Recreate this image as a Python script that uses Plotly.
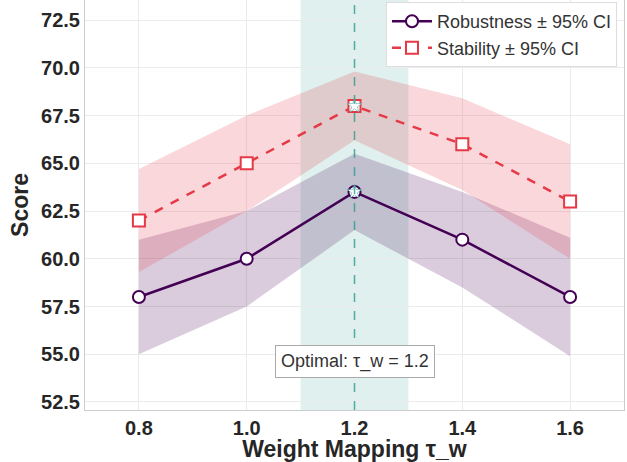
import plotly.graph_objects as go

tau_w = [0.8, 1.0, 1.2, 1.4, 1.6]
robustness = [58.0, 60.0, 63.5, 61.0, 58.0]
robustness_ci = [3.0, 2.5, 2.0, 2.5, 3.1]
stability = [62.0, 65.0, 68.0, 66.0, 63.0]
stability_ci = [2.7, 2.5, 1.8, 2.4, 3.0]
optimal_tau = 1.2
optimal_window = [1.1, 1.3]
y_ticks = [52.5, 55.0, 57.5, 60.0, 62.5, 65.0, 67.5, 70.0, 72.5]
x_ticks = [0.8, 1.0, 1.2, 1.4, 1.6]

PURPLE = "#440154"
RED = "#E63946"
TEAL = "#2A9D8F"
FONT = "Liberation Sans, Arial, sans-serif"

fig = go.Figure()

fig.add_vrect(x0=optimal_window[0], x1=optimal_window[1], fillcolor=TEAL,
              opacity=0.15, line_width=0, layer="below")

def band(x, y, ci, color):
    lo = [v - c for v, c in zip(y, ci)]
    hi = [v + c for v, c in zip(y, ci)]
    fig.add_trace(go.Scatter(x=list(x) + list(x)[::-1], y=hi + lo[::-1],
                             fill="toself", fillcolor=color, line=dict(width=0),
                             mode="lines", showlegend=False, hoverinfo="skip"))

band(tau_w, robustness, robustness_ci, "rgba(68,1,84,0.2)")
band(tau_w, stability, stability_ci, "rgba(230,57,70,0.2)")

fig.add_trace(go.Scatter(x=tau_w, y=robustness, mode="lines+markers",
                         name="Robustness ± 95% CI",
                         line=dict(color=PURPLE, width=2.5),
                         marker=dict(symbol="circle", size=12, color="white",
                                     line=dict(color=PURPLE, width=2))))
fig.add_trace(go.Scatter(x=tau_w, y=stability, mode="lines+markers",
                         name="Stability ± 95% CI",
                         line=dict(color=RED, width=2.5, dash="dash"),
                         marker=dict(symbol="square", size=12, color="white",
                                     line=dict(color=RED, width=2))))

idx = tau_w.index(optimal_tau)
fig.add_trace(go.Scatter(x=[optimal_tau, optimal_tau],
                         y=[robustness[idx], stability[idx]], mode="markers",
                         showlegend=False,
                         marker=dict(symbol="star", size=11, color="white",
                                     line=dict(color=TEAL, width=0.5))))

fig.add_vline(x=optimal_tau, line=dict(color=TEAL, width=1.5, dash="dash"),
              opacity=0.8, layer="above")

fig.add_annotation(x=optimal_tau, y=54.62, text="Optimal: τ_w = 1.2",
                   showarrow=False, font=dict(family=FONT, size=18, color="#333"),
                   bgcolor="white", bordercolor="#aaaaaa", borderwidth=1,
                   borderpad=5)

axis_common = dict(showgrid=True, gridcolor="#ebebeb", gridwidth=1,
                   showline=True, linecolor="#cccccc", linewidth=1, mirror=True,
                   zeroline=False, ticks="", automargin=False,
                   tickfont=dict(family=FONT, size=20, color="#262626"))

fig.update_layout(
    width=627, height=462,
    margin=dict(l=85, r=3, t=0, b=52),
    plot_bgcolor="white", paper_bgcolor="white",
    font=dict(family=FONT),
    xaxis=dict(range=[0.7, 1.7], tickvals=x_ticks,
               ticktext=[f"<b>{v:.1f}</b>" for v in x_ticks],
               title=dict(text="<b>Weight Mapping τ_w</b>",
                          font=dict(family=FONT, size=23, color="#262626"), standoff=6),
               **axis_common),
    yaxis=dict(range=[52.08, 73.55], tickvals=y_ticks,
               ticktext=[f"<b>{v:.1f}</b>" for v in y_ticks],
               title=dict(text="<b>Score</b>",
                          font=dict(family=FONT, size=23, color="#262626"), standoff=6),
               **axis_common),
    legend=dict(x=0.987, y=0.995, xanchor="right", yanchor="top",
                bgcolor="white", bordercolor="#dddddd", borderwidth=1,
                font=dict(family=FONT, size=18, color="#333"),
                itemwidth=40, tracegroupgap=0),
)

fig.write_html("out.html", config={"displayModeBar": False},
               post_script="document.body.style.margin='0';")
